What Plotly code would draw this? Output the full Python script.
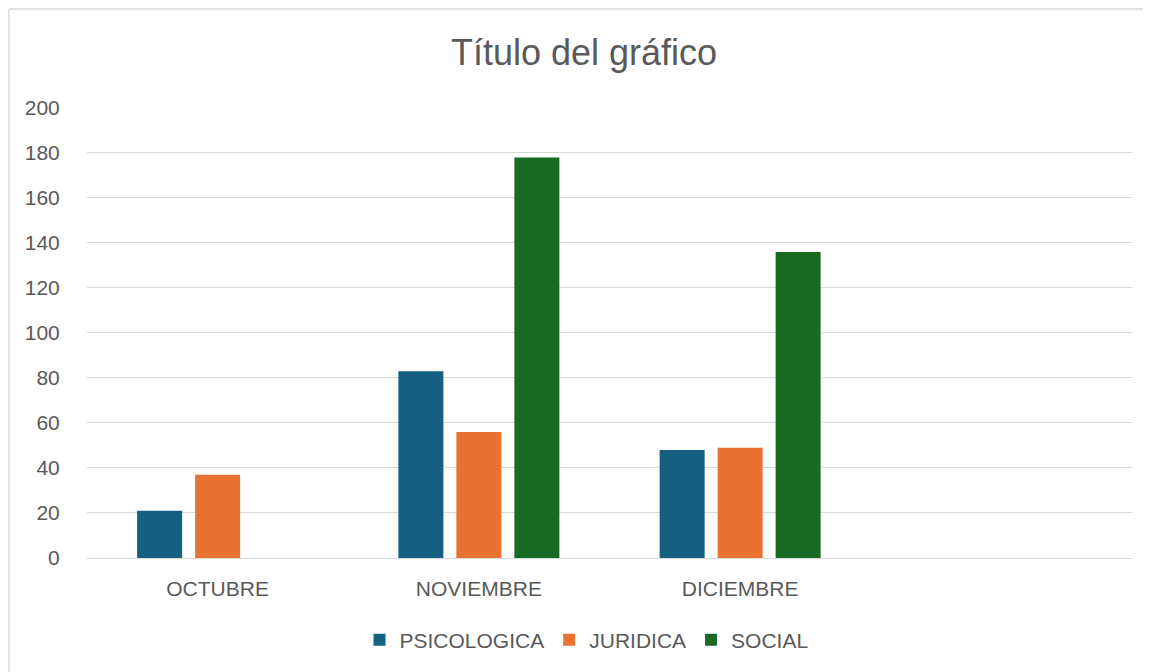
import plotly.graph_objects as go

categories = ["OCTUBRE", "NOVIEMBRE", "DICIEMBRE"]
psicologica = [21, 83, 48]
juridica = [37, 56, 49]
social = [None, 178, 136]
series_names = ["PSICOLOGICA", "JURIDICA", "SOCIAL"]
series_colors = ["#156082", "#E97132", "#196B24"]
y_ticks = [0, 20, 40, 60, 80, 100, 120, 140, 160, 180, 200]

FONT = "Liberation Sans, Arial, sans-serif"
TXT = "#595959"
GRID = "#D9D9D9"

W, H = 1151, 672
fig = go.Figure()
for name, vals, col in zip(series_names, [psicologica, juridica, social], series_colors):
    fig.add_trace(go.Bar(x=categories, y=vals, name=name, marker=dict(color=col, line=dict(width=0))))

fig.update_layout(
    width=W, height=H,
    paper_bgcolor="white", plot_bgcolor="white",
    margin=dict(l=79, r=27, t=99, b=122),
    barmode="group", bargap=0.334, bargroupgap=0.224,
    font=dict(family=FONT, color=TXT, size=21),
    title=dict(text="Título del gráfico", x=0.4756, xref="paper", xanchor="center",
               y=1 - 44 / H, yref="container", yanchor="middle",
               font=dict(size=36, color=TXT, family=FONT)),
    legend=dict(orientation="h", x=0.478, xanchor="center", y=-0.182, yanchor="middle",
                font=dict(size=21, color=TXT), itemwidth=30, traceorder="normal"),
    showlegend=True,
)
fig.update_xaxes(type="category", range=[-0.5, 3.5], showgrid=False, showline=False,
                 ticks="outside", ticklen=12, tickcolor="rgba(0,0,0,0)",
                 tickfont=dict(size=21, color=TXT))
fig.update_yaxes(range=[0, 200.4], tickvals=y_ticks, showgrid=True, gridcolor=GRID, gridwidth=1.3,
                 zeroline=True, zerolinecolor=GRID, zerolinewidth=1.3, showline=False,
                 ticks="outside", ticklen=22, tickcolor="rgba(0,0,0,0)",
                 tickfont=dict(size=21, color=TXT))
# chart-area border (left and top edges; the rest falls outside the view)
bx0, bx1 = -78 / 1045, (W - 79) / 1045
by0, by1 = -122 / 451, 1 + 98 / 451
fig.add_shape(type="line", xref="paper", yref="paper", x0=bx0, x1=bx0, y0=by0, y1=by1,
              line=dict(color=GRID, width=1.5))
fig.add_shape(type="line", xref="paper", yref="paper", x0=bx0, x1=bx1, y0=by1, y1=by1,
              line=dict(color=GRID, width=1.5))

fig.write_html("out.html")
